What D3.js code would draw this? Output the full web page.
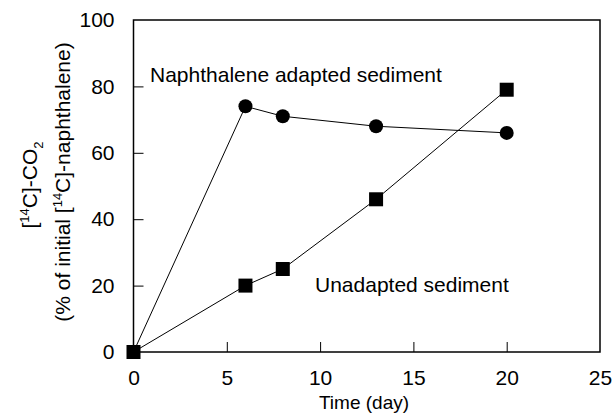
<!DOCTYPE html>
<html>
<head>
<meta charset="utf-8">
<script src="https://cdn.jsdelivr.net/npm/d3@7"></script>
<style>
body { margin: 0; background: #fff; }
text { font-family: "Liberation Sans", Arial, sans-serif; fill: #000; }
</style>
</head>
<body>
<svg width="613" height="415"></svg>
<script>
var days = [0, 6, 8, 13, 20];
var adapted = [0, 74, 71, 68, 66];
var unadapted = [0, 20, 25, 46, 79];
var xTicks = [0, 5, 10, 15, 20, 25];
var yTicks = [0, 20, 40, 60, 80, 100];

var svg = d3.select('svg');

var x = d3.scaleLinear().domain([0, 25]).range([133.5, 600]);
var y = d3.scaleLinear().domain([0, 100]).range([352, 20]);

// frame
svg.append('rect')
    .attr('x', x(0)).attr('y', y(100))
    .attr('width', x(25) - x(0)).attr('height', y(0) - y(100))
    .attr('fill', 'none').attr('stroke', '#000').attr('stroke-width', 1.5);

var xAxis = svg.append('g')
    .attr('transform', 'translate(0,' + y(0) + ')')
    .call(d3.axisBottom(x).tickValues(xTicks).tickSizeInner(-10).tickSizeOuter(0).tickPadding(20));
var yAxis = svg.append('g')
    .attr('transform', 'translate(' + x(0) + ',0)')
    .call(d3.axisLeft(y).tickValues(yTicks).tickSizeInner(-10).tickSizeOuter(0).tickPadding(19));

[xAxis, yAxis].forEach(function(a) {
    a.select('.domain').remove();
    a.selectAll('line').attr('stroke', '#000').attr('stroke-width', 1);
    a.selectAll('text').style('font-size', '21px').attr('font-family', null);
});
xAxis.selectAll('text').attr('dy', '0.6em');
xAxis.selectAll('.tick').filter(function(d) { return d === 25 || d === 0; }).select('line').remove();
yAxis.selectAll('.tick').filter(function(d) { return d === 0 || d === 100; }).select('line').remove();

var line = d3.line().x(function(d) { return x(d[0]); }).y(function(d) { return y(d[1]); });
var ptsA = days.map(function(d, i) { return [d, adapted[i]]; });
var ptsU = days.map(function(d, i) { return [d, unadapted[i]]; });

svg.append('path').attr('d', line(ptsA)).attr('fill', 'none').attr('stroke', '#000').attr('stroke-width', 1);
svg.append('path').attr('d', line(ptsU)).attr('fill', 'none').attr('stroke', '#000').attr('stroke-width', 1);

svg.selectAll('circle.a').data(ptsA.slice(1)).enter().append('circle')
    .attr('cx', function(d) { return x(d[0]); })
    .attr('cy', function(d) { return y(d[1]); })
    .attr('r', 7).attr('fill', '#000');

svg.selectAll('rect.u').data(ptsU).enter().append('rect')
    .attr('x', function(d) { return x(d[0]) - 7; })
    .attr('y', function(d) { return y(d[1]) - 7; })
    .attr('width', 14).attr('height', 14).attr('fill', '#000');

svg.append('text').attr('x', 150).attr('y', 82).style('font-size', '21px').text('Naphthalene adapted sediment');
svg.append('text').attr('x', 315).attr('y', 292).style('font-size', '21px').text('Unadapted sediment');

svg.append('text').attr('x', 364).attr('y', 409).attr('text-anchor', 'middle')
    .style('font-size', '19px').text('Time (day)');

var cy = (y(0) + y(100)) / 2;
var l1 = svg.append('text').attr('transform', 'translate(37,' + (cy - 1) + ') rotate(-90)')
    .attr('text-anchor', 'middle').style('font-size', '21px');
l1.append('tspan').text('[');
l1.append('tspan').attr('dy', -8).style('font-size', '13px').text('14');
l1.append('tspan').attr('dy', 8).text('C]-CO');
l1.append('tspan').attr('dy', 6).style('font-size', '13px').text('2');

var l2 = svg.append('text').attr('transform', 'translate(70,' + (cy - 4) + ') rotate(-90)')
    .attr('text-anchor', 'middle').style('font-size', '21px');
l2.append('tspan').text('(% of initial [');
l2.append('tspan').attr('dy', -8).style('font-size', '13px').text('14');
l2.append('tspan').attr('dy', 8).text('C]-naphthalene)');
</script>
</body>
</html>
